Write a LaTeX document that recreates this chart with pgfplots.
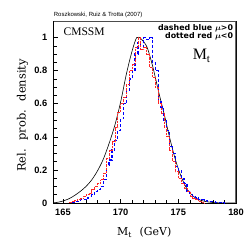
\documentclass[border=0pt]{standalone}
\usepackage{pgfplots}
\pgfplotsset{compat=1.18}
\usepackage{bm}
\usepackage{fontspec}
\setmainfont{Liberation Serif}
\setsansfont{Liberation Sans}
\setmonofont{Liberation Mono}
\newfontfamily\labfont{DejaVu Serif}
\newfontfamily\legfont{DejaVu Sans}
\begin{document}
\begin{tikzpicture}
\useasboundingbox (-53.7bp,-46bp) rectangle (195.3bp,203bp);
\begin{axis}[
  at={(0,0)}, anchor=south west,
  scale only axis, width=182.3bp, height=182bp,
  xmin=164.2, xmax=180, ymin=0, ymax=1.1,
  xtick={165,170,175,180}, ytick={0,0.2,0.4,0.6,0.8,1},
  minor x tick num=4, minor y tick num=3,
  xtick pos=left, ytick pos=left, tick align=inside,
  major tick length=4.5bp, minor tick length=2.8bp,
  tick style={black, line width=0.6pt},
  axis line style={black, line width=0.9pt},
  /pgf/number format/assume math mode=true,
  tick label style={font=\sffamily\bfseries\fontsize{9.3}{9.3}\selectfont},
  yticklabel style={xshift=-3bp},
  xticklabel style={yshift=-3bp},
  xlabel={\labfont\fontsize{11}{11}\selectfont M\textsubscript{t}\hspace{0.7em}(GeV)},
  ylabel={\labfont\fontsize{11.5}{11.5}\selectfont Rel.\hspace{0.75em}prob.\hspace{0.75em}density},
  xlabel style={at={(rel axis cs:0.497,-0.181)}, anchor=base},
  ylabel style={at={(rel axis cs:-0.154,0.481)}, anchor=base},
  clip=true,
]
% black curve
\addplot[black, line width=0.6pt, smooth] coordinates {
(164.2,0.001) (164.6,0.005) (165.0,0.012) (165.5,0.025) (166.0,0.045) (166.5,0.07)
(167.0,0.10) (167.5,0.14) (168.0,0.195) (168.5,0.265) (169.0,0.36) (169.5,0.47)
(170.0,0.61) (170.5,0.78) (171.0,0.92) (171.4,1.0) (171.8,0.99) (172.3,0.94)
(172.8,0.82) (173.3,0.67) (173.8,0.53) (174.3,0.38) (174.8,0.25) (175.3,0.15)
(175.8,0.08) (176.3,0.04) (176.8,0.02) (177.3,0.01) (178.0,0.003) (179.0,0.0) (180,0.0)
};
% blue dashed histogram (mu>0)
\addplot[blue, line width=1.2pt, dash pattern=on 3pt off 2pt, const plot] coordinates {
(165.75,0.005) (166.0,0.01) (166.25,0.01) (166.5,0.02) (166.75,0.02) (167.0,0.03)
(167.25,0.04) (167.5,0.05) (167.75,0.07) (168.0,0.08) (168.25,0.10) (168.5,0.14)
(168.75,0.23) (169.0,0.26) (169.25,0.32) (169.5,0.38) (169.75,0.44) (170.0,0.51)
(170.25,0.60) (170.5,0.68) (170.75,0.75) (171.0,0.80) (171.25,0.90) (171.5,0.97)
(171.75,0.93) (172.0,1.0) (172.25,0.99) (172.5,1.0) (172.75,0.85) (173.0,0.80)
(173.25,0.62) (173.5,0.58) (173.75,0.50) (174.0,0.44) (174.25,0.34) (174.5,0.30)
(174.75,0.22) (175.0,0.20) (175.25,0.15) (175.5,0.12) (175.75,0.07) (176.0,0.05)
(176.25,0.04) (176.5,0.03) (176.75,0.02) (177.0,0.02) (177.25,0.015) (177.5,0.01)
(177.75,0.01) (178.0,0.01) (178.25,0.005) (178.5,0.005) (178.75,0.002) (179.0,0)
};
% red dotted histogram (mu<0)
\addplot[red!85, line width=0.7pt, dash pattern=on 0.7pt off 0.7pt, const plot] coordinates {
(165.5,0.005) (165.75,0.01) (166.0,0.015) (166.25,0.02) (166.5,0.03) (166.75,0.04)
(167.0,0.05) (167.25,0.06) (167.5,0.08) (167.75,0.10) (168.0,0.12) (168.25,0.14)
(168.5,0.18) (168.75,0.27) (169.0,0.32) (169.25,0.37) (169.5,0.46) (169.75,0.55)
(170.0,0.60) (170.25,0.64) (170.5,0.72) (170.75,0.80) (171.0,0.84) (171.25,0.94)
(171.5,1.0) (171.75,0.93) (172.0,0.94) (172.25,0.90) (172.5,0.82) (172.75,0.76)
(173.0,0.70) (173.25,0.60) (173.5,0.54) (173.75,0.46) (174.0,0.40) (174.25,0.32)
(174.5,0.25) (174.75,0.19) (175.0,0.15) (175.25,0.12) (175.5,0.09) (175.75,0.07)
(176.0,0.04) (176.25,0.03) (176.5,0.02) (176.75,0.01) (177.0,0.005) (177.25,0)
};
\draw[gray!80!black, line width=1.6pt] (rel axis cs:1,0) -- (rel axis cs:1,1);
\draw[gray!60!black, line width=1pt] (rel axis cs:0,1) -- (rel axis cs:1,1);
\node[anchor=base west, font=\fontsize{11.6}{11.6}\selectfont, inner sep=0pt] at (rel axis cs:0.053,0.918) {CMSSM};
\node[anchor=base east, font=\legfont\bfseries\fontsize{7.9}{7.9}\selectfont, inner sep=0pt] at (rel axis cs:0.985,0.947) {dashed blue $\bm{\mu}$>0};
\node[anchor=base east, font=\legfont\bfseries\fontsize{7.9}{7.9}\selectfont, inner sep=0pt] at (rel axis cs:0.985,0.904) {dotted red $\bm{\mu}$<0};
\node[anchor=base west, font=\fontsize{16}{16}\selectfont, inner sep=0pt] at (rel axis cs:0.762,0.786) {M\textsubscript{t}};
\end{axis}
\node[anchor=base west, font=\sffamily\fontsize{6}{6}\selectfont, inner sep=0pt] at (0,186bp) {Roszkowski, Ruiz \& Trotta (2007)};
\end{tikzpicture}
\end{document}
